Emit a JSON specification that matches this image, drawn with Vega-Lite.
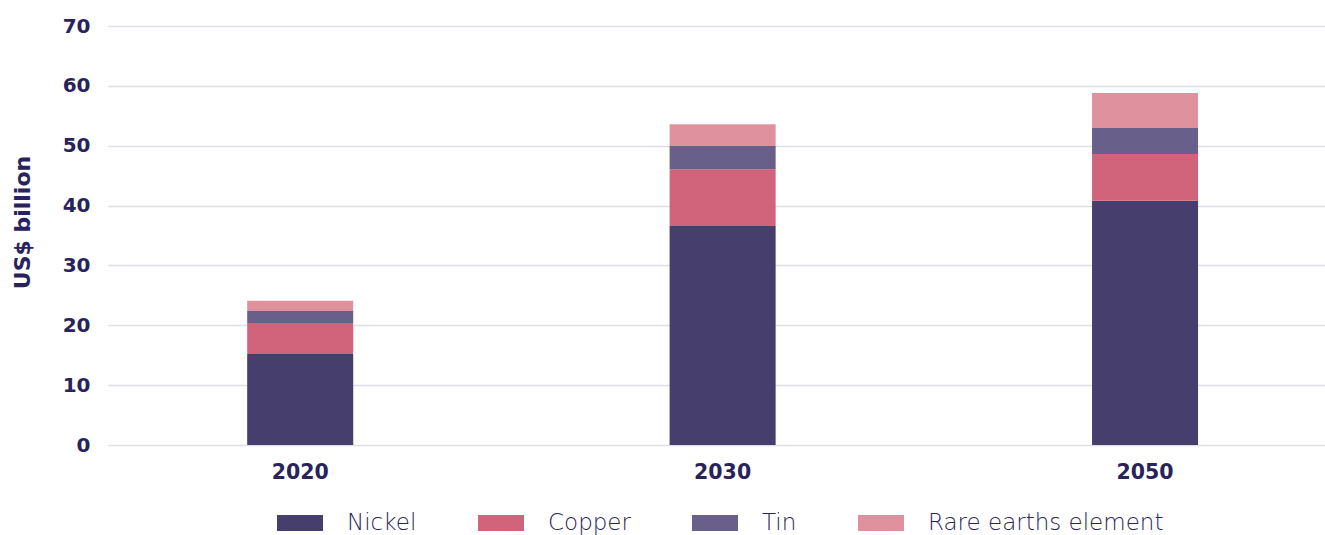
{
  "$schema": "https://vega.github.io/schema/vega-lite/v6.json",
  "width": 1217,
  "height": 419,
  "autosize": {"type": "none"},
  "padding": {"left": 108, "top": 26, "right": 0, "bottom": 90},
  "background": "white",
  "config": {
    "view": {"stroke": null},
    "font": "DejaVu Sans"
  },
  "data": {
    "values": [
      {"year": "2020", "mineral": "Nickel", "ord": 1, "value": 15.2},
      {"year": "2020", "mineral": "Copper", "ord": 2, "value": 5.2},
      {"year": "2020", "mineral": "Tin", "ord": 3, "value": 2.0},
      {"year": "2020", "mineral": "Rare earths element", "ord": 4, "value": 1.7},
      {"year": "2030", "mineral": "Nickel", "ord": 1, "value": 36.6},
      {"year": "2030", "mineral": "Copper", "ord": 2, "value": 9.45},
      {"year": "2030", "mineral": "Tin", "ord": 3, "value": 3.9},
      {"year": "2030", "mineral": "Rare earths element", "ord": 4, "value": 3.65},
      {"year": "2050", "mineral": "Nickel", "ord": 1, "value": 40.8},
      {"year": "2050", "mineral": "Copper", "ord": 2, "value": 7.8},
      {"year": "2050", "mineral": "Tin", "ord": 3, "value": 4.35},
      {"year": "2050", "mineral": "Rare earths element", "ord": 4, "value": 5.85}
    ]
  },
  "mark": {"type": "bar"},
  "encoding": {
    "x": {
      "field": "year",
      "type": "nominal",
      "scale": {"paddingInner": 0.749, "paddingOuter": 0.315, "align": 0.523},
      "axis": {
        "title": null,
        "labelAngle": 0,
        "labelFont": "DejaVu Sans",
        "labelFontWeight": "bold",
        "labelFontSize": 20.5,
        "labelColor": "#29235c",
        "labelPadding": 17,
        "ticks": false,
        "domain": false
      }
    },
    "y": {
      "field": "value",
      "type": "quantitative",
      "stack": "zero",
      "scale": {"domain": [0, 70]},
      "axis": {
        "title": "US$ billion",
        "titleFont": "DejaVu Sans",
        "titleFontWeight": "bold",
        "titleFontSize": 22,
        "titleColor": "#29235c",
        "titlePadding": 28,
        "titleY": 196,
        "values": [0, 10, 20, 30, 40, 50, 60, 70],
        "labelFont": "DejaVu Sans",
        "labelFontWeight": "bold",
        "labelFontSize": 20,
        "labelColor": "#29235c",
        "labelPadding": 18,
        "ticks": false,
        "domain": false,
        "grid": true,
        "gridColor": "#dde0e5",
        "gridWidth": 1.5
      }
    },
    "color": {
      "field": "mineral",
      "type": "nominal",
      "scale": {
        "domain": ["Nickel", "Copper", "Tin", "Rare earths element"],
        "range": ["#463e6c", "#d1637b", "#68608a", "#df929e"]
      },
      "legend": {
        "title": null,
        "orient": "none",
        "direction": "horizontal",
        "legendX": 169,
        "legendY": 474,
        "symbolType": "M-1,-0.35L1,-0.35L1,0.35L-1,0.35Z",
        "symbolSize": 2116,
        "symbolStrokeWidth": 0,
        "symbolOpacity": 1,
        "labelFont": "DejaVu Sans",
        "labelFontWeight": 200,
        "labelFontSize": 23,
        "labelColor": "#29235c",
        "labelOffset": 24,
        "columnPadding": 61,
        "labelLimit": 400
      }
    },
    "order": {"field": "ord", "type": "quantitative"}
  }
}
